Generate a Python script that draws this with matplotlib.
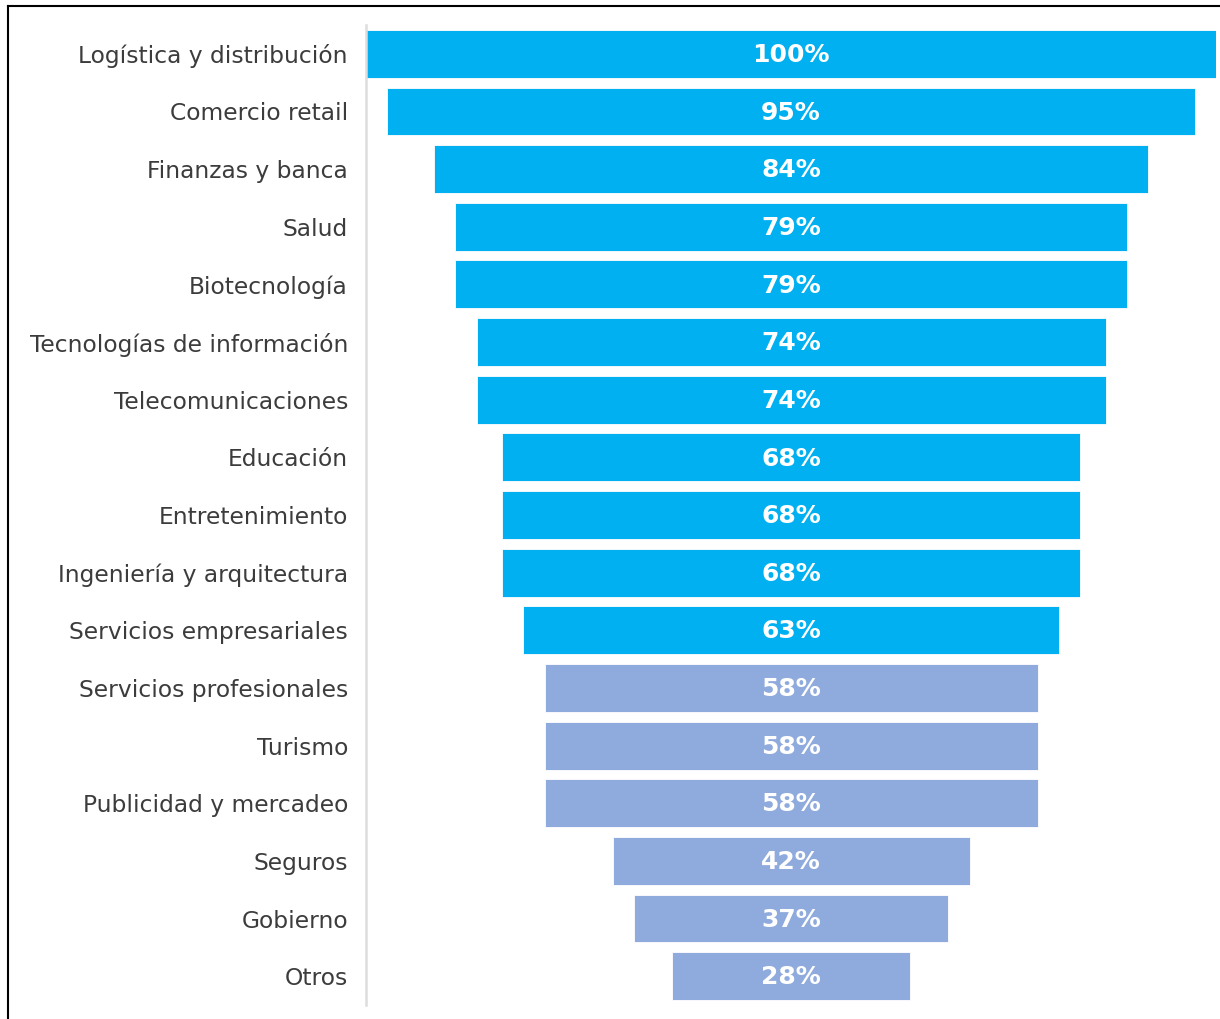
import matplotlib.pyplot as plt
from matplotlib.lines import Line2D

# data
sectors = [
    "Logística y distribución", "Comercio retail", "Finanzas y banca", "Salud",
    "Biotecnología", "Tecnologías de información", "Telecomunicaciones",
    "Educación", "Entretenimiento", "Ingeniería y arquitectura",
    "Servicios empresariales", "Servicios profesionales", "Turismo",
    "Publicidad y mercadeo", "Seguros", "Gobierno", "Otros",
]
values = [100, 95, 84, 79, 79, 74, 74, 68, 68, 68, 63, 58, 58, 58, 42, 37, 28]
value_labels = [f"{v}%" for v in values]

cyan = "#00B0F0"
lilac = "#8FAADC"
colors = [cyan if v > 60 else lilac for v in values]

fig = plt.figure(figsize=(12.2, 10.19), dpi=100)
ax = fig.add_axes([366 / 1220, 1 - 1005 / 1019, 850 / 1220, 980 / 1019])

ypos = list(range(len(sectors)))
ax.barh(ypos, values, left=[-v / 2 for v in values], height=0.83,
        color=colors, edgecolor="white", linewidth=0.6)

for y, lab in zip(ypos, value_labels):
    ax.text(0, y + 0.02, lab, ha="center", va="center", color="white",
            fontsize=18, fontweight="bold", family="DejaVu Sans")

ax.set_xlim(-50, 50)
ax.set_ylim(len(sectors) - 0.5, -0.5)
ax.set_yticks(ypos)
ax.set_yticklabels(sectors, fontsize=16.8, color="#3c3c3c",
                   family="DejaVu Sans")
ax.tick_params(axis="y", length=0, pad=13)
ax.set_xticks([])
for s in ["top", "right", "bottom"]:
    ax.spines[s].set_visible(False)
ax.spines["left"].set_color("#dddddd")
ax.spines["left"].set_linewidth(1.8)

# frame lines at top and left of the image
fig.add_artist(Line2D([8 / 1220, 1], [1 - 6 / 1019, 1 - 6 / 1019],
                      transform=fig.transFigure, color="black", linewidth=1.5))
fig.add_artist(Line2D([8 / 1220, 8 / 1220], [0, 1 - 6 / 1019],
                      transform=fig.transFigure, color="black", linewidth=1.5))

fig.savefig("out.png", dpi=100, facecolor="white")
